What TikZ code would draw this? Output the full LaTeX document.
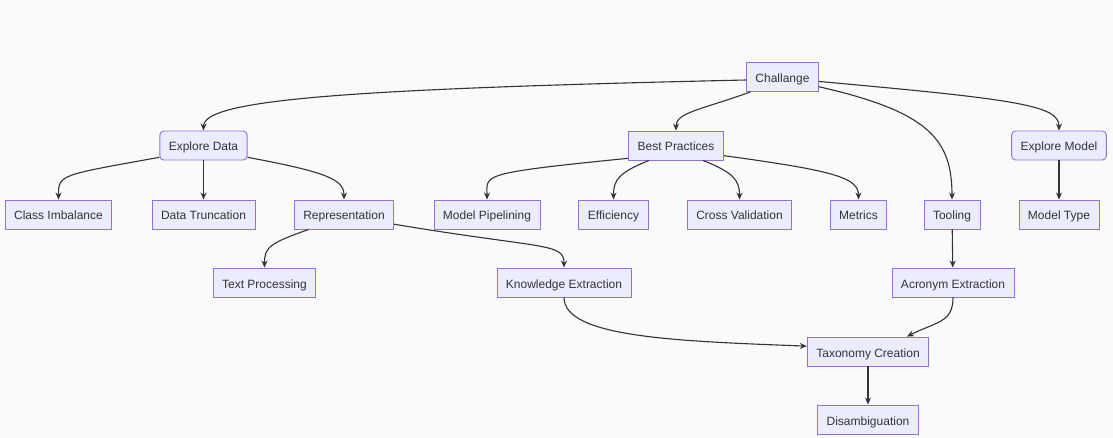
\documentclass[tikz,border=0pt]{standalone}
\usepackage{fontspec}
\setmainfont{Liberation Sans}
\usetikzlibrary{arrows.meta}

\definecolor{boxfill}{HTML}{ECECFF}
\definecolor{boxline}{HTML}{9370DB}
\definecolor{inkgray}{HTML}{333333}
\definecolor{pagebg}{HTML}{FAFAFA}

\tikzset{
  box/.style={draw=boxline, fill=boxfill, line width=0.9pt, text=inkgray,
    minimum height=29pt, inner xsep=9pt, text height=12pt, text depth=1pt,
    font=\fontsize{12}{14}\selectfont},
  roundbox/.style={box, rounded corners=4pt},
  link/.style={draw=inkgray, line width=1.1pt, -{Stealth[length=7pt,width=6pt]}}
}

\begin{document}
\begin{tikzpicture}[x=1pt,y=-1pt]
\fill[pagebg] (0,0) rectangle (1113,438);
\useasboundingbox (0,0) rectangle (1113,438);

% top
\node[box] (ch) at (782.5,77) {Challange};

% second row
\node[roundbox] (ed) at (203.5,145.5) {Explore Data};
\node[box] (bp) at (676,145.5) {Best Practices};
\node[roundbox] (em) at (1059,145.5) {Explore Model};

% third row
\node[box] (ci) at (58.5,214.5) {Class Imbalance};
\node[box] (dt) at (203.5,214.5) {Data Truncation};
\node[box] (re) at (344,214.5) {Representation};
\node[box] (mp) at (487,214.5) {Model Pipelining};
\node[box] (ef) at (613.5,214.5) {Efficiency};
\node[box] (cv) at (739.5,214.5) {Cross Validation};
\node[box] (me) at (858.5,214.5) {Metrics};
\node[box] (to) at (952,214.5) {Tooling};
\node[box] (mt) at (1059,214.5) {Model Type};

% fourth row
\node[box] (tp) at (264.5,282.5) {Text Processing};
\node[box] (ke) at (564,282.5) {Knowledge Extraction};
\node[box] (ae) at (953,282.5) {Acronym Extraction};

% bottom
\node[box] (tc) at (868,351.5) {Taxonomy Creation};
\node[box] (di) at (868,419.5) {Disambiguation};

% links
\draw[link] (ch.west) ++(0,3) .. controls +(-400,9) and +(0,-31) .. (ed.north);
\draw[link] (ch.-155) .. controls +(-50,18) and +(0,-18) .. (bp.north);
\draw[link] (ch.-15) .. controls +(110,25) and +(0,-60) .. (to.north);
\draw[link] (ch.-7) .. controls +(200,18) and +(0,-25) .. (em.north);

\draw[link] (ed.-165) .. controls +(-100,18) and +(0,-25) .. (ci.north);
\draw[link] (ed) -- (dt);
\draw[link] (ed.-15) .. controls +(80,15) and +(0,-20) .. (re.north);

\draw[link] (bp.-165) .. controls +(-150,15) and +(0,-25) .. (mp.north);
\draw[link] (bp.-151) .. controls +(-30,12) and +(0,-20) .. (ef.north);
\draw[link] (bp.-29) .. controls +(30,12) and +(0,-20) .. (cv.north);
\draw[link] (bp.-12) .. controls +(110,15) and +(0,-22) .. (me.north);

\draw[link] (em) -- (mt);
\draw[link] (to) -- (ae);

\draw[link] (re.-157) .. controls +(-40,14) and +(0,-20) .. (tp.north);
\draw[link] (re.-11) .. controls +(150,25) and +(0,-25) .. (ke.north);

\draw[link] (ke.south) .. controls +(0,40) and +(-130,-5) .. (tc.175);
\draw[link] (ae.south) .. controls +(0,25) and +(30,-15) .. (tc.21);
\draw[link] (tc) -- (di);

\end{tikzpicture}
\end{document}
